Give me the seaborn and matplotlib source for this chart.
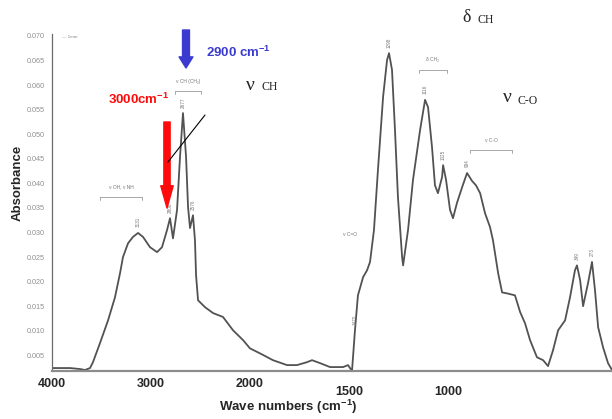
import numpy as np
import pandas as pd
import matplotlib
matplotlib.use("Agg")
import matplotlib.pyplot as plt
import matplotlib.transforms as mtransforms
from matplotlib.lines import Line2D
import seaborn as sns

# IR absorbance spectrum (wavenumber in cm-1, absorbance)
wavenumber = [4000, 3818, 3717, 3667, 3616, 3586, 3515, 3434, 3364, 3313, 3283, 3232,
              3182, 3131, 3081, 3010, 2939, 2889, 2838, 2808, 2778, 2737, 2707, 2677,
              2646, 2626, 2606, 2576, 2556, 2545, 2525, 2455, 2374, 2273, 2172, 2071,
              2000, 1950, 1884, 1813, 1763, 1712, 1687, 1646, 1596, 1530, 1505, 1485,
              1470, 1455, 1429, 1409, 1394, 1374, 1354, 1328, 1308, 1298, 1283, 1268,
              1253, 1232, 1227, 1202, 1177, 1141, 1116, 1101, 1081, 1066, 1051, 1030,
              1025, 1010, 990, 975, 955, 929, 904, 879, 859, 838, 813, 788, 773, 747,
              727, 702, 662, 636, 611, 586, 551, 520, 495, 470, 444, 409, 384, 359,
              349, 333, 318, 293, 273, 258, 242, 217, 192, 172]
absorbance = [0.0024, 0.0024, 0.0022, 0.0020, 0.0024, 0.0036, 0.0075, 0.0121, 0.0168,
              0.0217, 0.0250, 0.0278, 0.0291, 0.0299, 0.0291, 0.0270, 0.0260, 0.0270,
              0.0305, 0.0329, 0.0288, 0.0346, 0.0454, 0.0543, 0.0454, 0.0352, 0.0309,
              0.0335, 0.0284, 0.0213, 0.0162, 0.0148, 0.0136, 0.0128, 0.0101, 0.0081,
              0.0064, 0.0054, 0.0040, 0.0030, 0.0030, 0.0036, 0.0040, 0.0034, 0.0026,
              0.0026, 0.0030, 0.0018, 0.0101, 0.0172, 0.0209, 0.0223, 0.0240, 0.0305,
              0.0427, 0.0576, 0.0651, 0.0665, 0.0631, 0.0509, 0.0372, 0.0250, 0.0233,
              0.0305, 0.0407, 0.0509, 0.0570, 0.0555, 0.0474, 0.0396, 0.0380, 0.0413,
              0.0437, 0.0407, 0.0346, 0.0329, 0.0360, 0.0392, 0.0421, 0.0405, 0.0396,
              0.0380, 0.0339, 0.0311, 0.0284, 0.0217, 0.0178, 0.0176, 0.0172, 0.0138,
              0.0115, 0.0081, 0.0046, 0.0040, 0.0028, 0.0060, 0.0101, 0.0121, 0.0168,
              0.0223, 0.0233, 0.0203, 0.0150, 0.0197, 0.0240, 0.0183, 0.0107, 0.0066,
              0.0034, 0.0020]

x_ticks = [4000, 3000, 2000, 1500, 1000]
y_ticks = [0.005, 0.010, 0.015, 0.020, 0.025, 0.030, 0.035, 0.040, 0.045,
           0.050, 0.055, 0.060, 0.065, 0.070]

# labelled peaks (wavenumber, absorbance)
peak_w = [3131, 2808, 2677, 2576, 1470, 1298, 1116, 1025, 904, 349, 273]
peak_a = [0.0299, 0.0329, 0.0543, 0.0335, 0.0101, 0.0665, 0.0570, 0.0437, 0.0421,
          0.0233, 0.0240]

df = pd.DataFrame({"wavenumber": wavenumber, "absorbance": absorbance})

sns.set_style("white")
plt.rcParams["font.family"] = ["Liberation Sans", "DejaVu Sans"]
plt.rcParams["mathtext.fontset"] = "custom"
plt.rcParams["mathtext.rm"] = "Liberation Sans"
plt.rcParams["mathtext.bf"] = "Liberation Sans:bold"

W, H = 612, 419
fig = plt.figure(figsize=(W / 100, H / 100), dpi=100)
ax = fig.add_axes([52 / W, 48 / H, 560 / W, 337 / H])


# two-speed wavenumber axis: 4000-2000 compressed, below 2000 expanded 2x
def fwd(w):
    w = np.asarray(w, dtype=float)
    return np.where(w >= 2000, w / 1000.0, w / 500.0 - 2.0)


def inv(p):
    p = np.asarray(p, dtype=float)
    return np.where(p >= 2, p * 1000.0, (p + 2.0) * 500.0)


ax.set_xscale("function", functions=(fwd, inv))

sns.lineplot(data=df, x="wavenumber", y="absorbance", ax=ax, sort=False,
             estimator=None, color="#525252", linewidth=1.3)
for ln in ax.get_lines():
    ln.set_solid_joinstyle("round")

ax.set_xlim(4000, 172)
ax.set_ylim(0.0018, 0.0704)

ax.set_xticks(x_ticks)
ax.set_xticklabels([str(t) for t in x_ticks], fontsize=9, fontweight="bold")
ax.tick_params(axis="x", length=0, pad=5)
for lab in ax.get_xticklabels()[3:]:
    lab.set_transform(lab.get_transform() +
                      mtransforms.ScaledTranslation(0, -6 / 72, fig.dpi_scale_trans))
ax.set_yticks(y_ticks)
ax.set_yticklabels([f"{t:.3f}" for t in y_ticks], fontsize=5.2, color="#8f8f8f")
ax.tick_params(axis="y", length=2, width=0.6, color="#888888", pad=3)
ax.set_xlabel("")
ax.set_ylabel("")

for s in ["top", "right"]:
    ax.spines[s].set_visible(False)
ax.spines["left"].set_color("#6a6a6a")
ax.spines["left"].set_linewidth(0.9)
ax.spines["bottom"].set_color("#8c8c8c")
ax.spines["bottom"].set_linewidth(1.6)


def fx(px):
    return px / W


def fy(py):
    return 1 - py / H


fig.text(fx(18), fy(183), "Absorbance", rotation=90, fontsize=9.5,
         fontweight="bold", ha="center", va="center")
fig.text(fx(288), fy(407), r"Wave numbers (cm$^{\mathbf{-1}}$)", fontsize=9.5,
         fontweight="bold", ha="center", va="center")

# small peak labels
for w, a in zip(peak_w, peak_a):
    ax.annotate(f"{w}", xy=(w, a), xytext=(0, 4), textcoords="offset points",
                rotation=90, fontsize=3.3, color="#777777", ha="center", va="bottom")

# band assignment brackets
grey = "#9a9a9a"
brackets = [(100, 142, 197, "ν OH, ν NH"), (175, 201, 91, "ν CH (CH₂)"),
            (419, 447, 70, "δ CH₂"), (470, 512, 150, "ν C-O")]
for x0, x1, y0, txt in brackets:
    fig.add_artist(Line2D([fx(x0), fx(x1)], [fy(y0), fy(y0)], color=grey, lw=0.6))
    fig.add_artist(Line2D([fx(x0), fx(x0)], [fy(y0), fy(y0 + 3)], color=grey, lw=0.6))
    fig.add_artist(Line2D([fx(x1), fx(x1)], [fy(y0), fy(y0 + 3)], color=grey, lw=0.6))
    fig.text(fx((x0 + x1) / 2), fy(y0 - 10), txt, fontsize=3.5, color="#777777",
             ha="center", va="center")
fig.text(fx(350), fy(236), "ν C=O", fontsize=3.5, color="#777777", ha="center")
fig.text(fx(62), fy(37), "— 1mm", fontsize=3.2, color="#888888", ha="left", va="center")

# highlighted CH stretching peaks
blue = "#3b3bd0"
red = "#ff0a0a"
ax.annotate("", xy=(fx(186), fy(68)), xycoords="figure fraction",
            xytext=(fx(186), fy(30)), textcoords="figure fraction",
            arrowprops=dict(width=5, headwidth=10, headlength=8, color=blue, shrink=0))
ax.annotate("", xy=(fx(167), fy(208)), xycoords="figure fraction",
            xytext=(fx(167), fy(122)), textcoords="figure fraction",
            arrowprops=dict(width=4.5, headwidth=9, headlength=16, color=red, shrink=0))
fig.text(fx(206), fy(52), r"2900 cm$^{\mathbf{-1}}$", fontsize=9.5, fontweight="bold",
         color=blue, ha="left", va="center")
fig.text(fx(108), fy(99), r"3000cm$^{\mathbf{-1}}$", fontsize=9.5, fontweight="bold",
         color=red, ha="left", va="center")
fig.add_artist(Line2D([fx(205), fx(168)], [fy(115), fy(162)], color="black", lw=0.8))

serif = ["Liberation Serif", "DejaVu Serif"]
fig.text(fx(246), fy(85), "ν", fontsize=14, family=serif, ha="left", va="center")
fig.text(fx(262), fy(87), "CH", fontsize=8.5, family=serif, ha="left", va="center")
fig.text(fx(462), fy(17), "δ", fontsize=13, family=serif, ha="left", va="center")
fig.text(fx(477), fy(20), "CH", fontsize=8.5, family=serif, ha="left", va="center")
fig.text(fx(503), fy(98), "ν", fontsize=14, family=serif, ha="left", va="center")
fig.text(fx(517), fy(101), "C-O", fontsize=8.5, family=serif, ha="left", va="center")

fig.savefig("out.png", dpi=100)
